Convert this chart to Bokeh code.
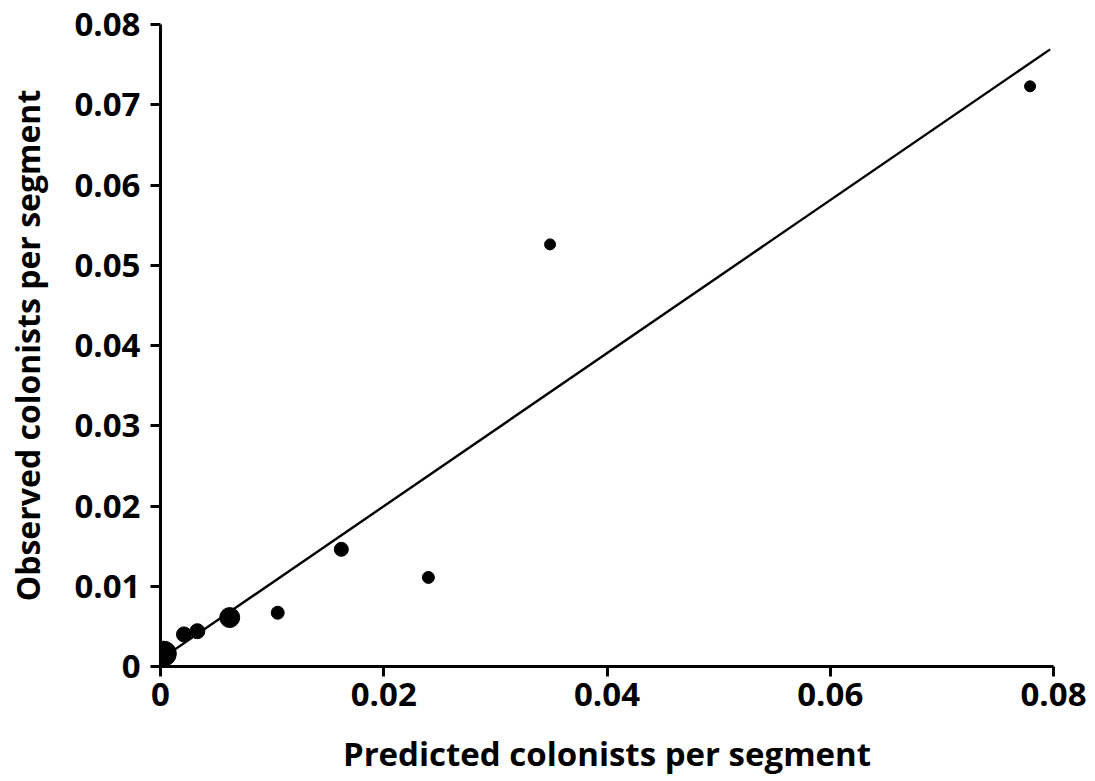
from bokeh.plotting import figure
from bokeh.models import Range1d, FixedTicker, ColumnDataSource
from bokeh.embed import file_html
from bokeh.resources import INLINE

# Data
predicted = [0.0003, 0.0021, 0.0033, 0.0062, 0.0105, 0.0162, 0.0240, 0.0349, 0.0779]
observed = [0.0016, 0.0040, 0.0044, 0.0061, 0.0067, 0.0146, 0.0111, 0.0526, 0.0723]
marker_diam = [25, 15, 15, 20, 13, 14, 12, 11, 11]
fit_x = [0.0, 0.0797]
fit_y = [0.0009, 0.0769]
x_ticks = [0, 0.02, 0.04, 0.06, 0.08]
x_tick_labels = ["0", "0.02", "0.04", "0.06", "0.08"]
y_ticks = [0, 0.01, 0.02, 0.03, 0.04, 0.05, 0.06, 0.07, 0.08]
y_tick_labels = ["0", "0.01", "0.02", "0.03", "0.04", "0.05", "0.06", "0.07", "0.08"]

FONT = "Open Sans"

p = figure(width=1095, height=781, output_backend="svg", toolbar_location=None,
           x_range=Range1d(0, 0.08), y_range=Range1d(0, 0.08),
           min_border_left=160, min_border_right=42, min_border_top=24,
           min_border_bottom=115)
p.outline_line_color = None
p.xgrid.visible = False
p.ygrid.visible = False
p.background_fill_color = "white"
p.border_fill_color = "white"

src = ColumnDataSource(dict(x=predicted, y=observed, s=marker_diam))
p.line(fit_x, fit_y, line_color="black", line_width=2.4)
p.scatter("x", "y", size="s", source=src, fill_color="black", line_color="black")

for ax, ticks, labels in ((p.xaxis[0], x_ticks, x_tick_labels), (p.yaxis[0], y_ticks, y_tick_labels)):
    ax.ticker = FixedTicker(ticks=ticks)
    ax.major_label_overrides = {t: l for t, l in zip(ticks, labels)}
    ax.axis_line_width = 3
    ax.axis_line_color = "black"
    ax.major_tick_line_width = 3
    ax.major_tick_out = 10
    ax.major_tick_in = 0
    ax.minor_tick_line_color = None
    ax.major_label_text_font = FONT
    ax.major_label_text_font_style = "bold"
    ax.major_label_text_font_size = "33px"
    ax.major_label_text_color = "black"
    ax.axis_label_text_font = FONT
    ax.axis_label_text_font_style = "bold"
    ax.axis_label_text_color = "black"

p.xaxis.axis_label_text_font_size = "33px"
p.yaxis.axis_label_text_font_size = "32px"
p.xaxis.axis_label = "Predicted colonists per segment"
p.yaxis.axis_label = "Observed colonists per segment"
p.xaxis.major_label_standoff = 6
p.yaxis.major_label_standoff = 10
p.xaxis.axis_label_standoff = 22
p.yaxis.axis_label_standoff = 22

open("out.html", "w").write(file_html(p, INLINE))
